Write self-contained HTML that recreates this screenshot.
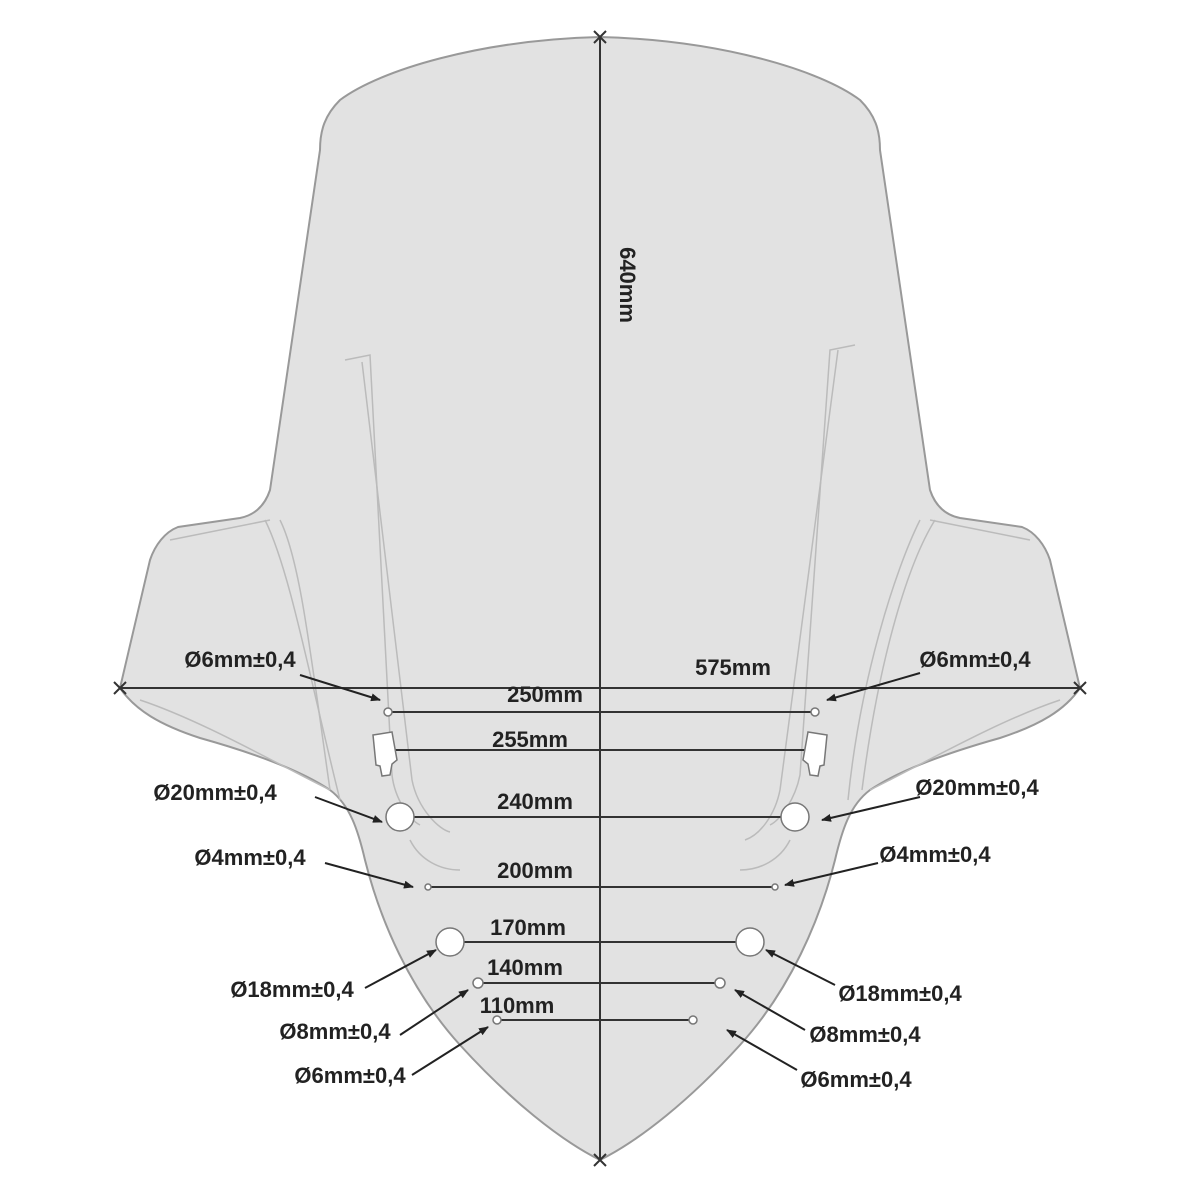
<!DOCTYPE html>
<html><head><meta charset="utf-8"><style>
html,body{margin:0;padding:0;background:#fff;}
svg{display:block}
text{font-family:"Liberation Sans Narrow","Liberation Sans",sans-serif;font-weight:bold;fill:#222;font-size:22px}
</style></head><body>
<svg width="1200" height="1200" viewBox="0 0 1200 1200" xmlns="http://www.w3.org/2000/svg">
<defs>
<marker id="ah" markerWidth="10" markerHeight="8" refX="9" refY="4" orient="auto" markerUnits="userSpaceOnUse">
<path d="M0,0 L10,4 L0,8 z" fill="#222"/></marker>
</defs>
<path d="M600,37 C480,40 380,70 340,100 C325,115 320,130 320,150 L270,490 C265,505 255,515 240,518 L178,527 C165,532 155,545 150,560 L120,688 C135,710 160,725 200,738 C250,752 300,770 330,790 C350,805 358,830 365,860 C380,920 410,990 460,1045 C510,1100 560,1140 600,1160 C640,1140 690,1100 740,1045 C790,990 820,920 835,860 C842,830 850,805 870,790 C900,770 950,752 1000,738 C1040,725 1065,710 1080,688 L1050,560 C1045,545 1035,532 1022,527 L960,518 C945,515 935,505 930,490 L880,150 C880,130 875,115 860,100 C820,70 720,40 600,37 Z" fill="#e2e2e2" stroke="#999" stroke-width="2"/>
<g fill="none" stroke="#bbb" stroke-width="1.5">
<path d="M345,360 L370,355 L392,775 C395,800 410,820 420,825"/>
<path d="M362,362 L412,780 C418,810 440,830 450,832"/>
<path d="M855,345 L830,350 L800,775 C795,800 780,820 770,825"/>
<path d="M838,350 L780,790 C775,815 760,835 745,840"/>
<path d="M280,520 C300,560 310,650 330,790"/>
<path d="M265,520 C290,570 310,680 340,800"/>
<path d="M935,520 C910,560 880,650 862,790"/>
<path d="M920,520 C895,570 860,680 848,800"/>
<path d="M170,540 L270,520"/><path d="M1030,540 L930,520"/>
<path d="M140,700 C200,720 270,760 330,790"/><path d="M1060,700 C1000,720 930,760 870,790"/>
<path d="M410,840 C420,860 440,870 460,870"/><path d="M790,840 C780,860 760,870 740,870"/>
</g>
<g stroke="#333" stroke-width="2" fill="none">
<line x1="600" y1="37" x2="600" y2="1160"/>
<line x1="120" y1="688" x2="1080" y2="688"/>
<path d="M594,31 l12,12 M606,31 l-12,12 M594,1154 l12,12 M606,1154 l-12,12 M114,682 l12,12 M126,682 l-12,12 M1074,682 l12,12 M1086,682 l-12,12"/>
<line x1="388" y1="712" x2="815" y2="712"/>
<line x1="385" y1="750" x2="812" y2="750"/>
<line x1="402" y1="817" x2="795" y2="817"/>
<line x1="428" y1="887" x2="775" y2="887"/>
<line x1="452" y1="942" x2="748" y2="942"/>
<line x1="478" y1="983" x2="720" y2="983"/>
<line x1="497" y1="1020" x2="693" y2="1020"/>
</g>
<g fill="#fff" stroke="#777" stroke-width="1.5">
<circle cx="388" cy="712" r="4"/><circle cx="815" cy="712" r="4"/>
<path d="M373,735 L392,732 L397,760 L392,764 L390,775 L382,776 L380,766 L376,765 Z"/>
<path d="M827,735 L808,732 L803,760 L808,764 L810,775 L818,776 L820,766 L824,765 Z"/>
<circle cx="400" cy="817" r="14"/><circle cx="795" cy="817" r="14"/>
<circle cx="428" cy="887" r="3"/><circle cx="775" cy="887" r="3"/>
<circle cx="450" cy="942" r="14"/><circle cx="750" cy="942" r="14"/>
<circle cx="478" cy="983" r="5"/><circle cx="720" cy="983" r="5"/>
<circle cx="497" cy="1020" r="4"/><circle cx="693" cy="1020" r="4"/>
</g>
<g stroke="#222" stroke-width="2" marker-end="url(#ah)">
<line x1="300" y1="675" x2="380" y2="700"/>
<line x1="315" y1="797" x2="382" y2="822"/>
<line x1="325" y1="863" x2="413" y2="887"/>
<line x1="365" y1="988" x2="436" y2="950"/>
<line x1="400" y1="1035" x2="468" y2="990"/>
<line x1="412" y1="1075" x2="488" y2="1027"/>
<line x1="920" y1="673" x2="827" y2="700"/>
<line x1="920" y1="797" x2="822" y2="820"/>
<line x1="878" y1="863" x2="785" y2="885"/>
<line x1="835" y1="985" x2="766" y2="950"/>
<line x1="805" y1="1030" x2="735" y2="990"/>
<line x1="797" y1="1070" x2="727" y2="1030"/>
</g>
<g text-anchor="middle">
<text x="545" y="702">250mm</text>
<text x="530" y="747">255mm</text>
<text x="535" y="809">240mm</text>
<text x="535" y="878">200mm</text>
<text x="528" y="935">170mm</text>
<text x="525" y="975">140mm</text>
<text x="517" y="1013">110mm</text>
<text x="733" y="675">575mm</text>
<text transform="translate(620,285) rotate(90)">640mm</text>
<text x="240" y="667">Ø6mm±0,4</text>
<text x="215" y="800">Ø20mm±0,4</text>
<text x="250" y="865">Ø4mm±0,4</text>
<text x="292" y="997">Ø18mm±0,4</text>
<text x="335" y="1039">Ø8mm±0,4</text>
<text x="350" y="1083">Ø6mm±0,4</text>
<text x="975" y="667">Ø6mm±0,4</text>
<text x="977" y="795">Ø20mm±0,4</text>
<text x="935" y="862">Ø4mm±0,4</text>
<text x="900" y="1001">Ø18mm±0,4</text>
<text x="865" y="1042">Ø8mm±0,4</text>
<text x="856" y="1087">Ø6mm±0,4</text>
</g>
</svg>
</body></html>
